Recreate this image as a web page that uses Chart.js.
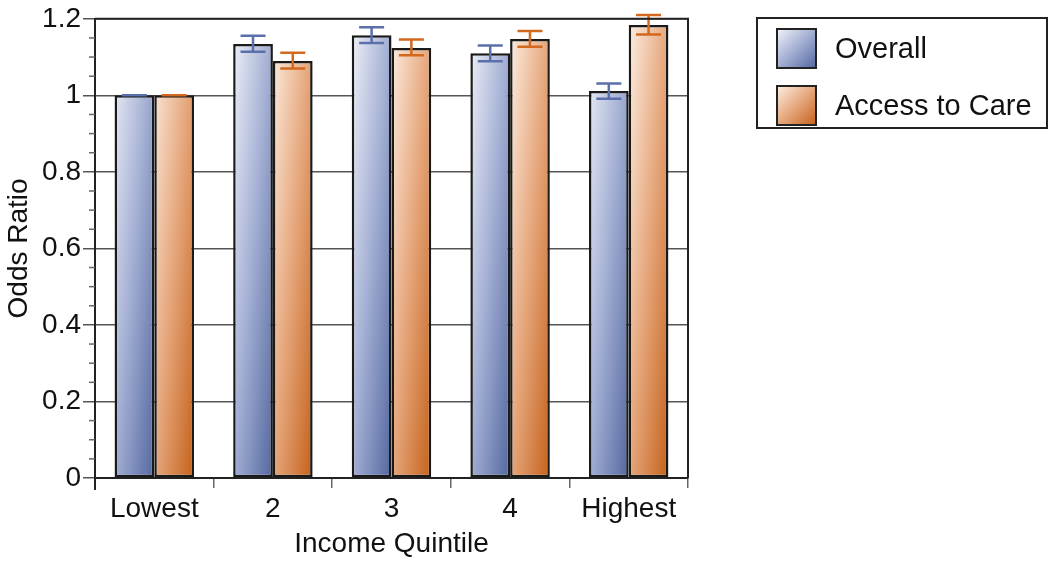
<!DOCTYPE html>
<html>
<head>
<meta charset="utf-8">
<script src="https://cdn.jsdelivr.net/npm/chart.js@4/dist/chart.umd.min.js"></script>
<style>
  body { margin: 0; background: #fff; }
  #wrap { width: 1050px; height: 568px; }
</style>
</head>
<body>
<div id="wrap"><canvas id="myChart" width="1050" height="568"></canvas></div>
<script>
// data
const categories = ['Lowest', '2', '3', '4', 'Highest'];
const seriesNames = ['Overall', 'Access to Care'];
const overall = [1.0, 1.134, 1.157, 1.110, 1.011];
const overallLow = [1.0, 1.114, 1.137, 1.089, 0.991];
const overallHigh = [1.0, 1.156, 1.178, 1.130, 1.031];
const access = [1.0, 1.090, 1.124, 1.147, 1.184];
const accessLow = [1.0, 1.070, 1.105, 1.127, 1.159];
const accessHigh = [1.0, 1.111, 1.146, 1.168, 1.210];
const yTicks = [0, 0.2, 0.4, 0.6, 0.8, 1, 1.2];

const FONT = 'Liberation Sans, Arial, Helvetica, sans-serif';
const blueStops = ['#f1f3f9', '#a2aed3', '#53679f'];
const orangeStops = ['#fcefe4', '#e6a77c', '#c4611a'];
const errColors = ['#5b6fab', '#d2691e'];
const catPct = 0.67;

// diagonal-ish gradient: half horizontal across the bar, half vertical across the plot
function barGradient(ctx, stops) {
  const chart = ctx.chart;
  const area = chart.chartArea;
  const xs = chart.scales.x;
  if (!area || !xs || ctx.dataIndex === undefined) return stops[1];
  const barW = (area.right - area.left) / categories.length * catPct / 2;
  const center = xs.getPixelForValue(ctx.dataIndex);
  const left = ctx.datasetIndex === 0 ? center - barW : center;
  const a = 0.5 / barW, b = 0.5 / (area.bottom - area.top);
  const d = a * a + b * b;
  const g = chart.ctx.createLinearGradient(left, area.top, left + a / d, area.top + b / d);
  g.addColorStop(0, stops[0]);
  g.addColorStop(0.5, stops[1]);
  g.addColorStop(1, stops[2]);
  return g;
}

const extras = {
  id: 'extras',
  afterDatasetsDraw(chart) {
    const c = chart.ctx, area = chart.chartArea;
    const xs = chart.scales.x, ys = chart.scales.y;
    const barW = (area.right - area.left) / categories.length * catPct / 2;
    const lows = [overallLow, accessLow], highs = [overallHigh, accessHigh];
    c.save();
    // error bars
    for (let s = 0; s < 2; s++) {
      c.strokeStyle = errColors[s];
      c.lineWidth = 2.5;
      for (let i = 0; i < categories.length; i++) {
        const cx = xs.getPixelForValue(i) + (s === 0 ? -barW / 2 : barW / 2);
        const yl = ys.getPixelForValue(lows[s][i]), yh = ys.getPixelForValue(highs[s][i]);
        c.beginPath();
        c.moveTo(cx, yl); c.lineTo(cx, yh);
        c.moveTo(cx - 12.5, yl); c.lineTo(cx + 12.5, yl);
        c.moveTo(cx - 12.5, yh); c.lineTo(cx + 12.5, yh);
        c.stroke();
      }
    }
    // frame (top and right)
    c.strokeStyle = '#222';
    c.lineWidth = 2;
    c.beginPath();
    c.moveTo(area.left, area.top); c.lineTo(area.right, area.top); c.lineTo(area.right, area.bottom);
    c.stroke();
    // axis line runs a bit below zero
    c.beginPath();
    c.moveTo(area.left, area.bottom); c.lineTo(area.left, area.bottom + 12);
    c.stroke();
    // minor ticks
    c.strokeStyle = '#666';
    c.lineWidth = 1.5;
    for (let k = 1; k < 24; k++) {
      if (k % 4 === 0) continue;
      const y = ys.getPixelForValue(k * 0.05);
      c.beginPath(); c.moveTo(area.left - 6, y); c.lineTo(area.left, y); c.stroke();
    }
    // legend
    const lx = 757, ly = 18, lw = 290, lh = 110;
    c.strokeStyle = '#222'; c.lineWidth = 2;
    c.strokeRect(lx, ly, lw, lh);
    const allStops = [blueStops, orangeStops];
    for (let s = 0; s < 2; s++) {
      const px = 777, py = 29 + s * 57, ps = 39;
      const g = c.createLinearGradient(px, py, px + ps, py + ps);
      g.addColorStop(0, allStops[s][0]);
      g.addColorStop(0.5, allStops[s][1]);
      g.addColorStop(1, allStops[s][2]);
      c.fillStyle = g;
      c.fillRect(px, py, ps, ps);
      c.strokeRect(px, py, ps, ps);
      c.fillStyle = '#111';
      c.font = '29px ' + FONT;
      c.textBaseline = 'middle';
      c.textAlign = 'left';
      c.fillText(seriesNames[s], 835, py + ps / 2 + 1);
    }
    c.restore();
  }
};

new Chart(document.getElementById('myChart'), {
  type: 'bar',
  data: {
    labels: categories,
    datasets: [
      {
        label: seriesNames[0], data: overall,
        backgroundColor: (ctx) => barGradient(ctx, blueStops),
        borderColor: '#1a1a1a', borderWidth: 2.5, borderSkipped: false,
        categoryPercentage: catPct, barPercentage: 1.0
      },
      {
        label: seriesNames[1], data: access,
        backgroundColor: (ctx) => barGradient(ctx, orangeStops),
        borderColor: '#1a1a1a', borderWidth: 2.5, borderSkipped: false,
        categoryPercentage: catPct, barPercentage: 1.0
      }
    ]
  },
  options: {
    responsive: false,
    animation: false,
    layout: { padding: { left: 0, right: 362, top: 18, bottom: 0 } },
    plugins: { legend: { display: false }, tooltip: { enabled: false } },
    scales: {
      x: {
        afterFit: (s) => { s.height = 90; },
        grid: { drawOnChartArea: false, drawTicks: true, tickLength: 10, color: '#666', lineWidth: 1.5, offset: true },
        border: { color: '#222', width: 2 },
        ticks: { color: '#111', font: { family: FONT, size: 28 }, padding: 4 },
        title: { display: true, text: 'Income Quintile', color: '#111', font: { family: FONT, size: 28 }, padding: { top: 0, bottom: 7 } }
      },
      y: {
        min: 0, max: 1.2,
        afterFit: (s) => { s.width = 95; },
        afterBuildTicks: (s) => { s.ticks = yTicks.map(v => ({ value: v })); },
        grid: { color: '#555', lineWidth: 1.5, drawTicks: true, tickLength: 12, tickColor: '#555' },
        border: { color: '#222', width: 2 },
        ticks: { color: '#111', font: { family: FONT, size: 28 }, padding: 2, callback: (v) => String(+v.toFixed(1)) },
        title: { display: true, text: 'Odds Ratio', color: '#111', font: { family: FONT, size: 28 }, padding: { top: 2, bottom: 0 } }
      }
    }
  },
  plugins: [extras]
});
</script>
</body>
</html>
